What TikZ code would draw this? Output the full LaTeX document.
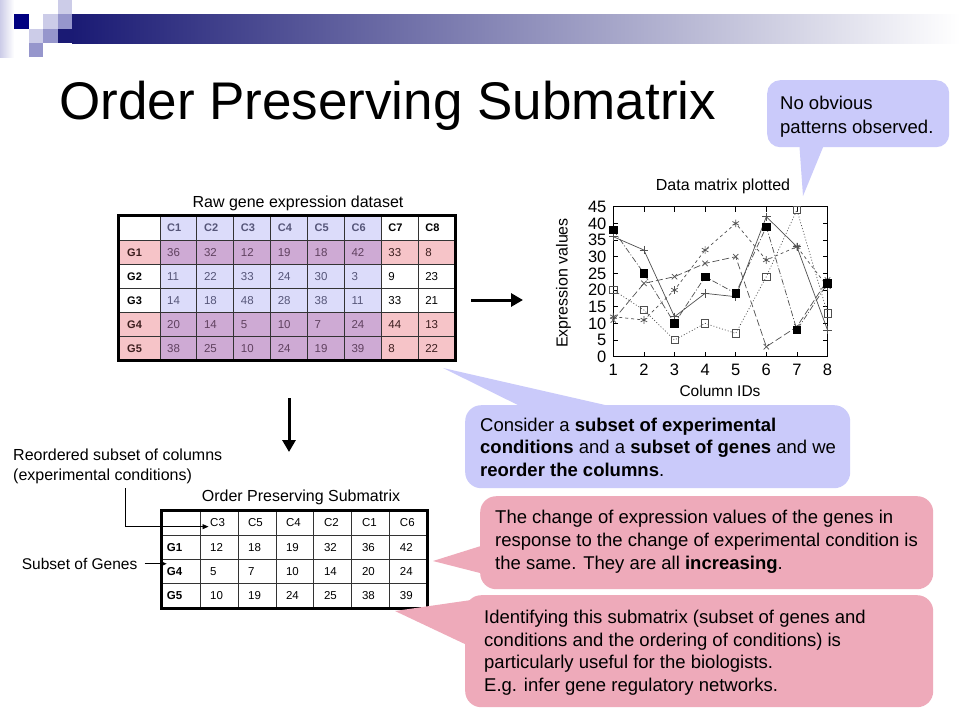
\documentclass[tikz,border=0pt]{standalone}
\usepackage{fontspec}
\setmainfont{Liberation Sans}
\usetikzlibrary{arrows.meta,plotmarks}
\definecolor{navyA}{RGB}{0,0,128}
\definecolor{barL}{RGB}{26,26,116}
\definecolor{barM}{RGB}{170,170,194}
\definecolor{sqLight}{RGB}{204,204,232}
\definecolor{sqMed}{RGB}{150,150,204}
\definecolor{lavC}{RGB}{202,202,250}
\definecolor{pinkC}{RGB}{238,170,186}
\definecolor{tPink}{RGB}{246,196,200}
\definecolor{tLav}{RGB}{220,220,250}
\definecolor{tMix}{RGB}{206,170,212}
\definecolor{txLav}{RGB}{85,85,120}
\definecolor{txMix}{RGB}{95,65,95}
\definecolor{txPink}{RGB}{60,30,30}
\definecolor{plotLine}{RGB}{80,80,80}
\newcommand{\fsz}[2]{\fontsize{#1}{#2}\selectfont}
\begin{document}
\begin{tikzpicture}[x=1pt,y=-1pt,
  lbl/.style={inner sep=0pt,anchor=base west,font=\fsz{16}{19}},
  cellA/.style={inner sep=0pt,anchor=west,text height=8.3pt,text depth=0pt,font=\fsz{11.5}{13}},
  cellB/.style={inner sep=0pt,anchor=west,text height=8.3pt,text depth=0pt,font=\fsz{11.5}{13}},
  callline/.style={inner sep=0pt,anchor=base west,font=\fsz{18.5}{23}},
  ticklbl/.style={inner sep=0pt,text height=11.8pt,text depth=0pt,font=\fsz{16.5}{18}},
  bigarrow/.style={line width=3pt,-{Triangle[length=12pt,width=13pt]}},
  smallarrow/.style={line width=0.8pt,-{Triangle[length=6pt,width=5pt]}},
  gridline/.style={line width=0.8pt,draw=black!80},
  frameline/.style={line width=3pt,draw=black},
  lavbox/.style={fill=lavC,draw=none,rounded corners=13pt},
  pinkbox/.style={fill=pinkC,draw=none,rounded corners=16pt},
  dataline/.style={draw=plotLine,line width=0.7pt,mark options={solid}},
]
\useasboundingbox (0,0) rectangle (960,720);
\fill[white] (0,0) rectangle (960,720);

% ---------- corner decoration ----------
\shade[left color=sqLight,right color=white] (0,0) rectangle (14,57);
\shade[left color=barL,middle color=barM,right color=white] (72,14) rectangle (960,43);
\fill[navyA] (14,14) rectangle (29,29);
\fill[sqLight] (58,0) rectangle (72,14);
\fill[sqLight] (43,14) rectangle (58,29);
\fill[sqMed] (58,14) rectangle (72,29);
\fill[sqLight] (29,29) rectangle (43,43);
\fill[sqMed] (43,29) rectangle (58,43);
\fill[sqMed] (29,43) rectangle (43,57);
\fill[barL] (58,29) rectangle (72.5,43);

% ---------- title ----------
\node[anchor=base west,inner sep=0pt,font=\fsz{53}{60}] (title) at (59,119) {Order Preserving Submatrix};

% ---------- table 1 ----------
\node[lbl,anchor=base] (rawlbl) at (298,207) {Raw gene expression dataset};
\fill[tLav] (160,215) rectangle (381.25,360);
\foreach \r in {1,4,5}{
  \fill[tPink] (118,{216+\r*24}) rectangle (455,{240+\r*24});
  \fill[tMix] (160,{216+\r*24}) rectangle (381.25,{240+\r*24});
}
\foreach \k in {0,...,7} \draw[gridline] ({160+\k*36.875},215) -- ({160+\k*36.875},360);
\foreach \r in {0,...,4} \draw[gridline] (118,{240+\r*24}) -- (455,{240+\r*24});
\draw[frameline] (118,215) rectangle (455,360);
\foreach \h [count=\c] in {C1,C2,C3,C4,C5,C6,C7,C8}{
  \ifnum\c<7 \def\tcol{txLav}\else\def\tcol{black}\fi
  \node[cellA,font=\fsz{11}{13}\bfseries,text=\tcol] (ta-0-\c) at ({160+(\c-1)*36.875+7},227.5) {\h};
}
\foreach \g [count=\r] in {G1,G2,G3,G4,G5}{
  \ifnum\r=2 \def\tcol{black}\else\ifnum\r=3 \def\tcol{black}\else\def\tcol{txPink}\fi\fi
  \node[cellA,font=\fsz{11}{13}\bfseries,text=\tcol] (ta-\r-0) at (127,{228+\r*24}) {\g};
}
\foreach \vals [count=\r] in {{36,32,12,19,18,42,33,8},{11,22,33,24,30,3,9,23},{14,18,48,28,38,11,33,21},{20,14,5,10,7,24,44,13},{38,25,10,24,19,39,8,22}}{
  \ifnum\r=2 \def\pk{0}\else\ifnum\r=3 \def\pk{0}\else\def\pk{1}\fi\fi
  \foreach \v [count=\c] in \vals {
    \ifnum\c<7 \ifnum\pk=1 \def\tcol{txMix}\else\def\tcol{txLav}\fi
    \else \ifnum\pk=1 \def\tcol{txPink}\else\def\tcol{black}\fi\fi
    \node[cellA,text=\tcol] (ta-\r-\c) at ({160+(\c-1)*36.875+7},{228+\r*24}) {\v};
  }
}

% ---------- arrows between parts ----------
\coordinate (raS) at (471,300);
\coordinate (raE) at (523,300);
\draw[bigarrow] (raS) -- (raE);
\coordinate (daS) at (289,398);
\coordinate (daE) at (289,452);
\draw[bigarrow] (daS) -- (daE);

% ---------- table 2 ----------
\node[lbl,anchor=base] (opslbl) at (301,501.5) {Order Preserving Submatrix};
\foreach \k in {0,...,5} \draw[gridline] ({200+\k*37.95},510) -- ({200+\k*37.95},608);
\foreach \r in {0,1,2} \draw[gridline] (161.7,{535+\r*24.33}) -- (427.7,{535+\r*24.33});
\draw[frameline] (161.7,510) rectangle (427.7,608);
\foreach \h [count=\c] in {C3,C5,C4,C2,C1,C6}
  \node[cellB] (tb-0-\c) at ({200+(\c-1)*37.95+10},522.5) {\h};
\foreach \g [count=\r] in {G1,G4,G5}
  \node[cellB,font=\fsz{11.5}{13}\bfseries] (tb-\r-0) at (166.7,{522.84+\r*24.33}) {\g};
\foreach \vals [count=\r] in {{12,18,19,32,36,42},{5,7,10,14,20,24},{10,19,24,25,38,39}}{
  \foreach \v [count=\c] in \vals
    \node[cellB] (tb-\r-\c) at ({200+(\c-1)*37.95+10},{522.84+\r*24.33}) {\v};
}
\node[lbl] (reo1) at (13,460.5) {Reordered subset of columns};
\node[lbl] (reo2) at (13,480) {(experimental conditions)};
\coordinate (reoS) at (125,488);
\draw[smallarrow] (reoS) |- ([xshift=-1.5pt]tb-0-1.base west);
\node[lbl,font=\fsz{15.5}{18}] (sgl) at (21.7,569.3) {Subset of Genes};
\draw[smallarrow] ([xshift=7pt]sgl.east) -- (sgl.east -| tb-2-0.west);

% ---------- chart ----------
\node[lbl,anchor=base] (dmp) at (723,190) {Data matrix plotted};
\node[lbl,anchor=base,font=\fsz{15.5}{18}] (colid) at (720,396.5) {Column IDs};
\node[inner sep=0pt,rotate=90,font=\fsz{16}{18}] (expv) at (563.5,283) {Expression values};
\begin{scope}[shift={(613.3,356.7)},x=30.6pt,y=3.3333pt]
  \draw[line width=0.8pt] (0,0) rectangle (7,45);
  \foreach \i [count=\lab from 1] in {0,...,7}{
    \draw[line width=0.8pt] (\i,0) -- (\i,1.5);
    \draw[line width=0.8pt] (\i,45) -- (\i,43.5);
    \node[ticklbl,anchor=north] (xl\lab) at (\i,-1.9) {\lab};
  }
  \foreach \v in {0,5,...,45}{
    \draw[line width=0.8pt] (0,\v) -- (0.163,\v);
    \draw[line width=0.8pt] (7,\v) -- (6.837,\v);
    \node[ticklbl,anchor=east] (yl\v) at (-0.22,\v) {\v};
  }
  \draw[dataline,mark=+,mark size=4.2pt] plot coordinates {(0,36) (1,32) (2,12) (3,19) (4,18) (5,42) (6,33) (7,8)};
  \draw[dataline,dash pattern=on 7pt off 3pt,mark=x,mark size=3.8pt] plot coordinates {(0,11) (1,22) (2,24) (3,28) (4,30) (5,3) (6,9) (7,23)};
  \draw[dataline,dash pattern=on 3pt off 3pt,mark=asterisk,mark size=3.8pt] plot coordinates {(0,12) (1,11) (2,20) (3,32) (4,40) (5,29) (6,33) (7,21)};
  \draw[dataline,dash pattern=on 1pt off 2pt,mark=square,mark size=3.6pt] plot coordinates {(0,20) (1,14) (2,5) (3,10) (4,7) (5,24) (6,44) (7,13)};
  \draw[dataline,dash pattern=on 6pt off 2pt on 1pt off 2pt,mark=square*,mark size=3.8pt,mark options={solid,fill=black,draw=black}] plot coordinates {(0,38) (1,25) (2,10) (3,24) (4,19) (5,39) (6,8) (7,22)};
\end{scope}

% ---------- callouts ----------
\fill[lavC] (803,196) -- (799,140) -- (826,140) -- cycle;
\node[lavbox,anchor=north west,minimum width=182pt,minimum height=67pt] (nobox) at (767,80) {};
\node[callline] (no1) at (780,109) {No obvious};
\node[callline] (no2) at (780,133) {patterns observed.};

\fill[lavC] (443,368) -- (528,410) -- (627,410) -- cycle;
\node[lavbox,rounded corners=16pt,anchor=north west,minimum width=385pt,minimum height=83pt] (cbox) at (465,405) {};
\node[callline] (cs1) at (480,431) {Consider a \textbf{subset of experimental}};
\node[callline] (cs2) at (480,453.5) {\textbf{conditions} and a \textbf{subset of genes} and we};
\node[callline] (cs3) at (480,476) {\textbf{reorder the columns}.};

\fill[pinkC] (433,561) -- (484,545) -- (484,574) -- cycle;
\node[pinkbox,anchor=north west,minimum width=453pt,minimum height=93pt] (pbox1) at (480,496) {};
\node[callline] (p1a) at (495,523) {The change of expression values of the genes in};
\node[callline] (p1b) at (495,546) {response to the change of experimental condition is};
\node[callline] (p1c) at (495,569) {the same. They are all \textbf{increasing}.};

\fill[pinkC] (395,611) -- (485,598) -- (467,645) -- cycle;
\node[pinkbox,anchor=north west,minimum width=468pt,minimum height=112pt] (pbox2) at (465,595) {};
\node[callline] (p2a) at (484,623) {Identifying this submatrix (subset of genes and};
\node[callline] (p2b) at (484,646) {conditions and the ordering of conditions) is};
\node[callline] (p2c) at (484,668) {particularly useful for the biologists.};
\node[callline] (p2d) at (484,691) {E.g. infer gene regulatory networks.};
\end{tikzpicture}
\end{document}
